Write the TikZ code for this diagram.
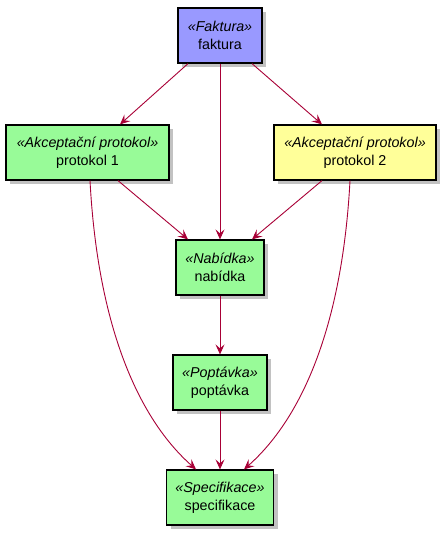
\documentclass[tikz,border=0pt]{standalone}
\usepackage{fontspec}
\setmainfont{Liberation Sans}
\usetikzlibrary{arrows.meta,shadows}
\definecolor{edgec}{HTML}{A80036}
\definecolor{bluec}{HTML}{9999FF}
\definecolor{greenc}{HTML}{98FB98}
\definecolor{yellowc}{HTML}{FFFF99}
\tikzset{
  cls/.style={draw=black, line width=1.2pt, align=center, inner sep=0pt,
    minimum height=55pt, font=\fontsize{14.3}{18}\selectfont,
    drop shadow={shadow xshift=4pt, shadow yshift=-4pt, fill=black!40, opacity=0.6}},
  conn/.style={draw=edgec, line width=0.9pt, -{Stealth[length=10pt,width=9pt,inset=4pt]}}
}
\begin{document}
\begin{tikzpicture}[x=1pt,y=-1pt]
\useasboundingbox (0,0) rectangle (446,538);
\node[cls, fill=bluec, minimum width=84pt] (fak) at (220,35.5) {\textit{«Faktura»}\\faktura};
\node[cls, fill=greenc, minimum width=163pt] (p1) at (87.5,152.5) {\textit{«Akceptační protokol»}\\protokol 1};
\node[cls, fill=yellowc, minimum width=162pt] (p2) at (355,152.5) {\textit{«Akceptační protokol»}\\protokol 2};
\node[cls, fill=greenc, minimum width=88pt] (nab) at (220,267.5) {\textit{«Nabídka»}\\nabídka};
\node[cls, fill=greenc, minimum width=94pt] (pop) at (220,382.5) {\textit{«Poptávka»}\\poptávka};
\node[cls, fill=greenc, minimum width=107pt] (spe) at (220,497.5) {\textit{«Specifikace»}\\specifikace};
\draw[conn] ([xshift=-32pt]fak.south) -- ([xshift=32.5pt]p1.north);
\draw[conn] (fak.south) -- (nab.north);
\draw[conn] ([xshift=32pt]fak.south) -- ([xshift=-33pt]p2.north);
\draw[conn] ([xshift=30.5pt]p1.south) -- ([xshift=-32pt]nab.north);
\draw[conn] ([xshift=-33pt]p2.south) -- ([xshift=32pt]nab.north);
\draw[conn] (nab.south) -- (pop.north);
\draw[conn] (pop.south) -- (spe.north);
\draw[conn] ([xshift=2.5pt]p1.south) .. controls (98,330) and (140,420) .. ([xshift=-24pt]spe.north);
\draw[conn] ([xshift=-5pt]p2.south) .. controls (342,330) and (300,420) .. ([xshift=24pt]spe.north);
\end{tikzpicture}
\end{document}
